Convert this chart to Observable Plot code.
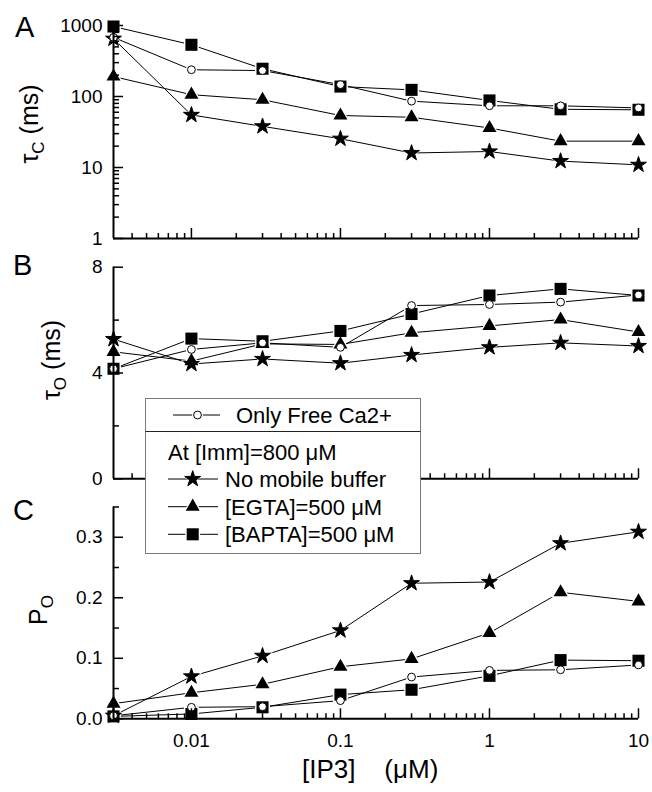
<!DOCTYPE html>
<html><head><meta charset="utf-8">
<script src="https://cdn.jsdelivr.net/npm/d3@7"></script>
<script src="https://cdn.jsdelivr.net/npm/@observablehq/plot@0.6"></script>
<style>
body{margin:0;background:#fff;}
#root{position:relative;width:652px;height:792px;overflow:hidden;font-family:"Liberation Sans",Arial,sans-serif;color:#000;}
</style></head><body><div id="root"></div>
<script>
// ---------- data ----------
const ip3 = [0.003, 0.01, 0.03, 0.1, 0.3, 1, 3, 10];
const seriesKeys = ["free", "none", "egta", "bapta"];
const seriesLabels = ["Only Free Ca2+", "No mobile buffer", "[EGTA]=500 μM", "[BAPTA]=500 μM"];
const legendHeader = "At [Imm]=800 μM";

// Panel A: tau_C (ms)
const tauC_free  = [680, 238, 232, 147, 86, 74, 74, 69];
const tauC_none  = [650, 55, 38, 25.4, 16, 16.8, 12.3, 10.9];
const tauC_egta  = [191, 106, 90, 54, 51, 36, 23.5, 23.5];
const tauC_bapta = [968, 535, 246, 138, 124, 88, 66, 65];
// Panel B: tau_O (ms)
const tauO_free  = [4.16, 4.89, 5.14, 4.97, 6.55, 6.59, 6.68, 6.95];
const tauO_none  = [5.28, 4.34, 4.53, 4.37, 4.68, 4.97, 5.14, 5.02];
const tauO_egta  = [4.8, 4.45, 5.1, 5.08, 5.52, 5.78, 6.02, 5.55];
const tauO_bapta = [4.16, 5.3, 5.2, 5.59, 6.23, 6.93, 7.18, 6.93];
// Panel C: P_O
const po_free  = [0.005, 0.019, 0.020, 0.030, 0.069, 0.080, 0.081, 0.089];
const po_none  = [0.005, 0.070, 0.104, 0.146, 0.224, 0.226, 0.290, 0.309];
const po_egta  = [0.025, 0.043, 0.057, 0.086, 0.099, 0.142, 0.209, 0.194];
const po_bapta = [0.004, 0.008, 0.019, 0.040, 0.048, 0.071, 0.097, 0.096];

// ticks
const xMajor = [0.01, 0.1, 1, 10];
const xMinorMult = [2, 3, 4, 5, 6, 7, 8, 9];
const yA_major = [1, 10, 100, 1000];
const yB_major = [0, 4, 8];
const yB_minor = [2, 6];
const yC_major = [0, 0.1, 0.2, 0.3];
const yC_minor = [0.05, 0.15, 0.25, 0.35];

// ---------- helpers ----------
const FONT = "Liberation Sans, Arial, sans-serif";
const xMinor = [];
for (const d of [0.001, 0.01, 0.1, 1]) for (const m of xMinorMult) { const v = +(d * m).toPrecision(3); if (v > 0.0031 && v < 10) xMinor.push(v); }
const yA_minor = [];
for (const d of [1, 10, 100]) for (const m of xMinorMult) yA_minor.push(d * m);

const SYM = {
  free:  {symbol: "circle",   r: 3.9},
  none:  {symbol: "star",     r: 5.0},
  egta:  {symbol: "triangle", r: 5.2},
  bapta: {symbol: "square",   r: 6.8}
};
function rows(vals, key) { return ip3.map((x, i) => ({x, y: vals[i], series: key})); }

function seriesMarks(sets) {
  const marks = [];
  for (const k of seriesKeys) marks.push(Plot.line(rows(sets[k], k), {x: "x", y: "y", stroke: "black", strokeWidth: 1}));
  for (const k of seriesKeys) marks.push(Plot.dot(rows(sets[k], k), {x: "x", y: "y", symbol: SYM[k].symbol, r: SYM[k].r + 1.6, fill: "white", stroke: "none"}));
  for (const k of ["bapta", "egta", "none", "free"]) {
    if (k === "free") marks.push(Plot.dot(rows(sets[k], k), {x: "x", y: "y", symbol: "circle", r: SYM[k].r, fill: "white", stroke: "black", strokeWidth: 1}));
    else if (k === "none") marks.push(Plot.dot(rows(sets[k], k), {x: "x", y: "y", symbol: "star", r: SYM[k].r, fill: "black", stroke: "black", strokeWidth: 1, strokeLinejoin: "round"}));
    else marks.push(Plot.dot(rows(sets[k], k), {x: "x", y: "y", symbol: SYM[k].symbol, r: SYM[k].r, fill: "black", stroke: "none"}));
  }
  return marks;
}
function xAxisMarks(showLabels) {
  const m = [
    Plot.axisX({ticks: xMajor, tickSize: -10, tickFormat: () => "", label: null, strokeWidth: 1.5}),
    Plot.axisX({ticks: xMinor, tickSize: -5, tickFormat: () => "", label: null, strokeWidth: 1.5})
  ];
  if (showLabels) m.push(Plot.axisX({ticks: xMajor, tickSize: 0, tickPadding: 15, tickFormat: d => String(d), label: null, fontSize: 19}));
  return m;
}
function yAxisMarks(major, minor, fmt) {
  return [
    Plot.axisY({ticks: major, tickSize: -10, tickFormat: () => "", label: null, strokeWidth: 1.5}),
    Plot.axisY({ticks: minor, tickSize: -6, tickFormat: () => "", label: null, strokeWidth: 1.5}),
    Plot.axisY({ticks: major, tickSize: 0, tickPadding: 11, tickFormat: fmt, label: null, fontSize: 19})
  ];
}
const common = {
  width: 652, marginLeft: 113, marginRight: 14,
  style: {fontFamily: FONT, fontSize: "19px", background: "transparent", overflow: "visible"},
  x: {type: "log", domain: [0.003, 10]}
};
const root = document.getElementById("root");
function place(svg, top) {
  svg.style.position = "absolute"; svg.style.left = "0px"; svg.style.top = top + "px";
  root.appendChild(svg);
}

// ---------- Panel A ----------
const plotA = Plot.plot({
  ...common, height: 250, marginTop: 25, marginBottom: 12,
  y: {type: "log", domain: [1, 1000]},
  marks: [
    ...seriesMarks({free: tauC_free, none: tauC_none, egta: tauC_egta, bapta: tauC_bapta}),
    Plot.ruleX([0.003], {strokeWidth: 2}),
    Plot.ruleY([1], {strokeWidth: 2}),
    ...xAxisMarks(false),
    ...yAxisMarks(yA_major, yA_minor, d => String(d))
  ]
});
place(plotA, 0);

// ---------- Panel B ----------
const plotB = Plot.plot({
  ...common, height: 240, marginTop: 16.7, marginBottom: 11.7,
  y: {domain: [0, 8]},
  marks: [
    ...seriesMarks({free: tauO_free, none: tauO_none, egta: tauO_egta, bapta: tauO_bapta}),
    Plot.ruleX([0.003], {strokeWidth: 2}),
    Plot.ruleY([0], {strokeWidth: 2}),
    ...xAxisMarks(false),
    ...yAxisMarks(yB_major, yB_minor, d => String(d))
  ]
});
place(plotB, 250);

// ---------- Panel C ----------
const plotC = Plot.plot({
  ...common, height: 302, marginTop: 16.5, marginBottom: 73.7,
  y: {domain: [0, 0.35]},
  marks: [
    ...seriesMarks({free: po_free, none: po_none, egta: po_egta, bapta: po_bapta}),
    Plot.ruleX([0.003], {strokeWidth: 2}),
    Plot.ruleY([0], {strokeWidth: 2}),
    ...xAxisMarks(true),
    ...yAxisMarks(yC_major, yC_minor, d => d.toFixed(1))
  ]
});
place(plotC, 490);

// ---------- overlay: panel letters, axis titles, legend ----------
const ov = d3.select(root).append("svg")
  .attr("width", 652).attr("height", 792)
  .style("position", "absolute").style("left", "0px").style("top", "0px")
  .style("font-family", FONT);

[["A", 15, 37], ["B", 13, 275], ["C", 13, 520]].forEach(([t, x, y]) =>
  ov.append("text").attr("x", x).attr("y", y).attr("font-size", 29).text(t));

function yTitle(x, y, main, sub, rest) {
  const t = ov.append("text").attr("transform", `translate(${x},${y}) rotate(-90)`)
    .attr("text-anchor", "middle").attr("font-size", 25).attr("xml:space", "preserve");
  t.append("tspan").text(main);
  t.append("tspan").attr("font-size", 17).attr("dy", 6).text(sub);
  if (rest) t.append("tspan").attr("dy", -6).text(rest);
}
yTitle(38, 124, "τ", "C", " (ms)");
yTitle(60, 360, "τ", "O", " (ms)");
yTitle(47, 610, "P", "O", null);

ov.append("text").attr("x", 302).attr("y", 778).attr("font-size", 26)
  .attr("xml:space", "preserve").style("white-space", "pre").text("[IP3]    (μM)");

// legend
const lg = ov.append("g");
lg.append("rect").attr("x", 145.5).attr("y", 398.5).attr("width", 275).attr("height", 155)
  .attr("fill", "white").attr("stroke", "#7a7a7a").attr("stroke-width", 1);
lg.append("line").attr("x1", 145.5).attr("x2", 420.5).attr("y1", 431.5).attr("y2", 431.5)
  .attr("stroke", "#222").attr("stroke-width", 1);
const d3sym = {circle: d3.symbolCircle, star: d3.symbolStar, triangle: d3.symbolTriangle, square: d3.symbolSquare};
function swatch(key, x1, x2, cx, cy) {
  lg.append("line").attr("x1", x1).attr("x2", x2).attr("y1", cy).attr("y2", cy).attr("stroke", "black").attr("stroke-width", 1);
  const s = SYM[key];
  lg.append("path").attr("transform", `translate(${cx},${cy})`)
    .attr("d", d3.symbol(d3sym[s.symbol], Math.PI * (s.r + 1.6) ** 2)()).attr("fill", "white");
  lg.append("path").attr("transform", `translate(${cx},${cy})`)
    .attr("d", d3.symbol(d3sym[s.symbol], Math.PI * s.r ** 2)())
    .attr("fill", key === "free" ? "white" : "black")
    .attr("stroke", (key === "free" || key === "none") ? "black" : "none")
    .attr("stroke-linejoin", "round");
}
swatch("free", 173, 220, 197.5, 415);
lg.append("text").attr("x", 236).attr("y", 423).attr("font-size", 22).text(seriesLabels[0]);
lg.append("text").attr("x", 168).attr("y", 460).attr("font-size", 22).text(legendHeader);
const rowY = [479, 506.7, 534.3];
[1, 2, 3].forEach((i, j) => {
  swatch(seriesKeys[i], 168, 218, 192.7, rowY[j]);
  lg.append("text").attr("x", 225).attr("y", rowY[j] + 7.8).attr("font-size", 22).text(seriesLabels[i]);
});
</script></body></html>
